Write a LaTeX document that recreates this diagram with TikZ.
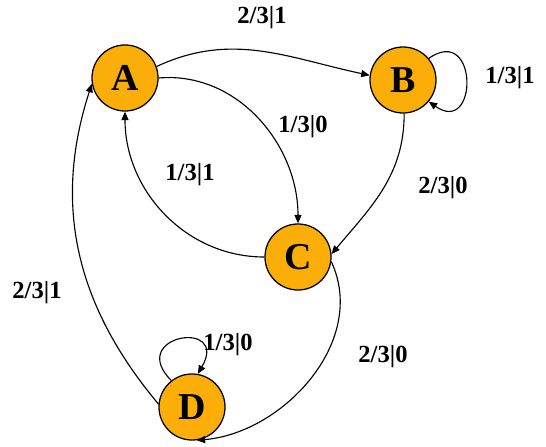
\documentclass[tikz,border=0pt]{standalone}
\usepackage{fontspec}
\setmainfont{Liberation Serif}
\usetikzlibrary{arrows.meta, positioning}
\definecolor{stateorange}{RGB}{252,174,8}

\begin{document}
\begin{tikzpicture}[
  x=0.025cm, y=-0.025cm,
  >={Triangle[length=6pt,width=5pt]},
  state/.style={circle, draw, line width=0.9pt, fill=stateorange, minimum size=1.65cm, inner sep=0pt, font=\fontsize{27}{27}\selectfont\bfseries},
  trans/.style={->, line width=0.8pt},
  lbl/.style={font=\fontsize{17.5}{17.5}\selectfont\bfseries, inner sep=1pt}
]
\useasboundingbox (0,0) rectangle (546,447);

% states
\node[state] (A) at (125,78) {A};
\node[state] (B) at (403,80) {B};
\node[state] (C) at (298,257) {C};
\node[state] (D) at (192,407) {D};

% transitions
\draw[trans] (A.20) to[out=25,in=168] (B.172);
\draw[trans] (B.40) to[out=35,in=-35,looseness=3.6] (B.-40);
\draw[trans] (A.0) to[out=5,in=90] (C.90);
\draw[trans] (C.180) to[out=180,in=-90] (A.-90);
\draw[trans] (B.-88) to[out=-90,in=50] (C.5);
\draw[trans] (C.-8) to[out=-65,in=5] (D.-82);
\draw[trans] (D.175) to[out=130,in=-108] (A.190);
\draw[trans] (D.128) to[out=135,in=60,looseness=6] (D.80);

% labels
\node[lbl] (lab) at (262,18) {2/3|1};
\node[lbl] (lbb) at (510,78) {1/3|1};
\node[lbl] (lac) at (303,127) {1/3|0};
\node[lbl] (lca) at (190,175) {1/3|1};
\node[lbl] (lbc) at (443,188) {2/3|0};
\node[lbl] (lda) at (37,293) {2/3|1};
\node[lbl] (ldd) at (228,345) {1/3|0};
\node[lbl] (lcd) at (383,357) {2/3|0};

\end{tikzpicture}
\end{document}
